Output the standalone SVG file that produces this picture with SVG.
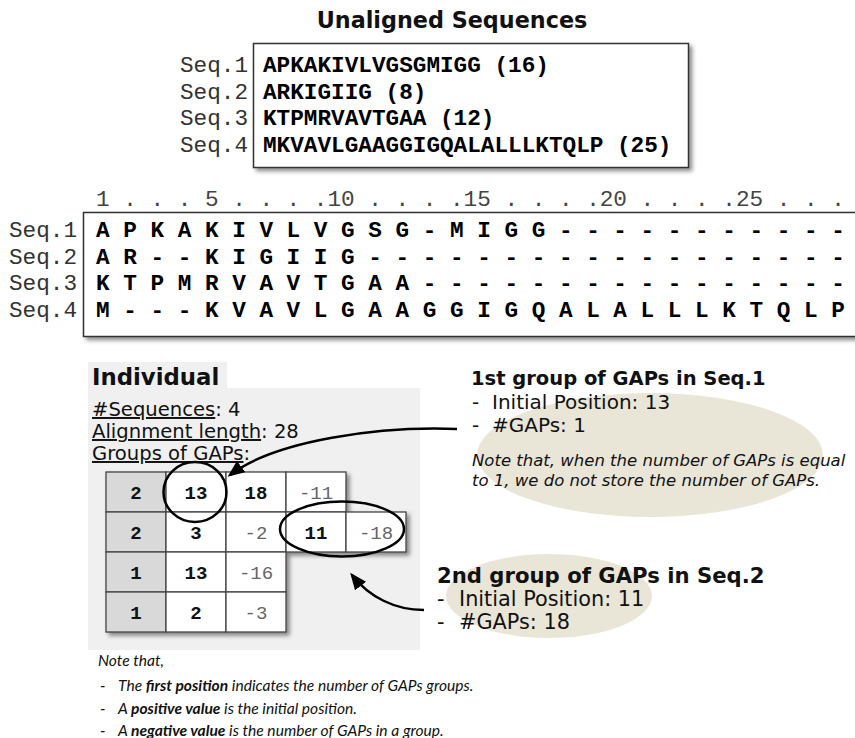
<svg xmlns="http://www.w3.org/2000/svg" width="855" height="738" viewBox="0 0 855 738">
  <style>
    .mono { font-family: "Liberation Mono", "Courier New", monospace; font-size: 22.7px; }
    .lbl { fill: #333; }
    .seq { font-weight: bold; fill: #000; }
    .ruler { fill: #444; }
    .sans { font-family: "DejaVu Sans", Verdana, sans-serif; fill: #111; }
    .frame { fill: #fff; stroke: #333; stroke-width: 1.5; }
    .cell { fill: #fff; stroke: #444; stroke-width: 1.3; }
    .head { fill: #d9d9d9; stroke: #444; stroke-width: 1.3; }
    .num { font-family: "Liberation Mono", "Courier New", monospace; font-size: 19px; text-anchor: middle; }
    .pos { font-weight: bold; fill: #111; }
    .neg { fill: #666; }
    .ring { fill: none; stroke: #000; stroke-width: 2.5; }
    .link { fill: none; stroke: #000; stroke-width: 2.5; }
    .bubble { fill: #e9e6d8; }
    .note { font-family: Lato, "Open Sans", sans-serif; font-style: italic; font-size: 15.6px; fill: #111; }
  </style>
  <defs>
    <filter id="shadow" x="-10%" y="-10%" width="130%" height="130%">
      <feDropShadow dx="3" dy="3" stdDeviation="2" flood-color="#000" flood-opacity="0.45"/>
    </filter>
    <marker id="head" markerUnits="userSpaceOnUse" markerWidth="18" markerHeight="16" refX="14" refY="7" orient="auto">
      <path d="M0,0 L17,7 L0,14 z" fill="#000"/>
    </marker>
  </defs>

  <!-- Unaligned sequences -->
  <g id="unaligned">
    <text class="sans" x="452" y="28" font-size="22.3" font-weight="bold" text-anchor="middle">Unaligned Sequences</text>
    <rect class="frame" x="253.5" y="43.5" width="435" height="124" filter="url(#shadow)"/>
    <g class="mono">
      <text class="lbl" x="248" y="72" text-anchor="end">Seq.1</text>
      <text class="lbl" x="248" y="98.5" text-anchor="end">Seq.2</text>
      <text class="lbl" x="248" y="125" text-anchor="end">Seq.3</text>
      <text class="lbl" x="248" y="152" text-anchor="end">Seq.4</text>
      <text class="seq" x="263" y="72">APKAKIVLVGSGMIGG (16)</text>
      <text class="seq" x="263" y="98.5">ARKIGIIG (8)</text>
      <text class="seq" x="263" y="125">KTPMRVAVTGAA (12)</text>
      <text class="seq" x="263" y="152">MKVAVLGAAGGIGQALALLLKTQLP (25)</text>
    </g>
  </g>

  <!-- Multiple alignment -->
  <g id="alignment">
    <rect class="frame" x="83.5" y="212.5" width="800" height="124" filter="url(#shadow)"/>
    <g class="mono">
      <text class="ruler" x="96" y="206">1 . . . 5 . . . .10 . . . .15 . . . .20 . . . .25 . . .</text>
      <text class="lbl" x="9" y="237">Seq.1</text>
      <text class="lbl" x="9" y="263.5">Seq.2</text>
      <text class="lbl" x="9" y="290">Seq.3</text>
      <text class="lbl" x="9" y="316.5">Seq.4</text>
      <text class="seq" x="96" y="237">A P K A K I V L V G S G - M I G G - - - - - - - - - - -</text>
      <text class="seq" x="96" y="263.5">A R - - K I G I I G - - - - - - - - - - - - - - - - - -</text>
      <text class="seq" x="96" y="290">K T P M R V A V T G A A - - - - - - - - - - - - - - - -</text>
      <text class="seq" x="96" y="316.5">M - - - K V A V L G A A G G I G Q A L A L L L K T Q L P</text>
    </g>
  </g>

  <!-- Individual encoding panel -->
  <g id="individual">
    <rect x="88" y="362" width="139" height="28" fill="#f0f0f0"/>
    <rect x="88" y="388" width="332" height="262" fill="#f0f0f0"/>
    <text class="sans" x="92" y="385" font-size="22.8" font-weight="bold">Individual</text>
    <g class="sans" font-size="19.6">
      <text x="92" y="416"><tspan text-decoration="underline">#Sequences</tspan>: 4</text>
      <text x="92" y="438"><tspan text-decoration="underline">Alignment length</tspan>: 28</text>
      <text x="92" y="460"><tspan text-decoration="underline">Groups of GAPs</tspan>:</text>
    </g>
  </g>

  <!-- Groups of GAPs table -->
  <g id="gap-table">
    <g filter="url(#shadow)">
      <rect class="head" x="106" y="472" width="60" height="40"/>
      <rect class="cell" x="166" y="472" width="60" height="40"/>
      <rect class="cell" x="226" y="472" width="60" height="40"/>
      <rect class="cell" x="286" y="472" width="60" height="40"/>
      <rect class="head" x="106" y="512" width="60" height="40"/>
      <rect class="cell" x="166" y="512" width="60" height="40"/>
      <rect class="cell" x="226" y="512" width="60" height="40"/>
      <rect class="cell" x="286" y="512" width="60" height="40"/>
      <rect class="cell" x="346" y="512" width="60" height="40"/>
      <rect class="head" x="106" y="552" width="60" height="40"/>
      <rect class="cell" x="166" y="552" width="60" height="40"/>
      <rect class="cell" x="226" y="552" width="60" height="40"/>
      <rect class="head" x="106" y="592" width="60" height="40"/>
      <rect class="cell" x="166" y="592" width="60" height="40"/>
      <rect class="cell" x="226" y="592" width="60" height="40"/>
    </g>
    <g class="num">
      <text class="pos" x="136" y="499">2</text>
      <text class="pos" x="196" y="499">13</text>
      <text class="pos" x="256" y="499">18</text>
      <text class="neg" x="316" y="499">-11</text>
      <text class="pos" x="136" y="539">2</text>
      <text class="pos" x="196" y="539">3</text>
      <text class="neg" x="256" y="539">-2</text>
      <text class="pos" x="316" y="539">11</text>
      <text class="neg" x="376" y="539">-18</text>
      <text class="pos" x="136" y="579">1</text>
      <text class="pos" x="196" y="579">13</text>
      <text class="neg" x="256" y="579">-16</text>
      <text class="pos" x="136" y="619">1</text>
      <text class="pos" x="196" y="619">2</text>
      <text class="neg" x="256" y="619">-3</text>
    </g>
    <ellipse class="ring" cx="195" cy="492" rx="31.5" ry="30"/>
    <ellipse class="ring" cx="342" cy="529" rx="62" ry="27.5"/>
  </g>

  <!-- First gap group callout -->
  <g id="group1">
    <ellipse class="bubble" cx="650" cy="455" rx="173" ry="62"/>
    <text class="sans" x="471" y="385" font-size="19.5" font-weight="bold">1st group of GAPs in Seq.1</text>
    <g class="sans" font-size="20">
      <text x="472" y="408.5">-</text><text x="492" y="408.5">Initial Position: 13</text>
      <text x="472" y="432">-</text><text x="492" y="432">#GAPs: 1</text>
    </g>
    <g class="sans" font-size="16.5" font-style="italic">
      <text x="472" y="466">Note that, when the number of GAPs is equal</text>
      <text x="472" y="486">to 1, we do not store the number of GAPs.</text>
    </g>
  </g>

  <!-- Second gap group callout -->
  <g id="group2">
    <ellipse class="bubble" cx="549" cy="596" rx="103" ry="42"/>
    <text class="sans" x="437" y="583" font-size="21.2" font-weight="bold">2nd group of GAPs in Seq.2</text>
    <g class="sans" font-size="20.8">
      <text x="437" y="606">-</text><text x="459" y="606">Initial Position: 11</text>
      <text x="437" y="629">-</text><text x="459" y="629">#GAPs: 18</text>
    </g>
  </g>

  <!-- Connectors -->
  <g id="connectors">
    <path class="link" d="M457,429 C380,426 276,440 230,475" marker-end="url(#head)"/>
    <path class="link" d="M424,610 C395,610 369,597 352,575" marker-end="url(#head)"/>
  </g>

  <!-- Legend note -->
  <g id="legend" class="note">
    <text x="98" y="666">Note that,</text>
    <text y="691"><tspan x="100">-</tspan><tspan x="118">The </tspan><tspan font-weight="bold">first position</tspan> indicates the number of GAPs groups.</text>
    <text y="714"><tspan x="100">-</tspan><tspan x="118">A </tspan><tspan font-weight="bold">positive value</tspan> is the initial position.</text>
    <text y="736"><tspan x="100">-</tspan><tspan x="118">A </tspan><tspan font-weight="bold">negative value</tspan> is the number of GAPs in a group.</text>
  </g>
</svg>
